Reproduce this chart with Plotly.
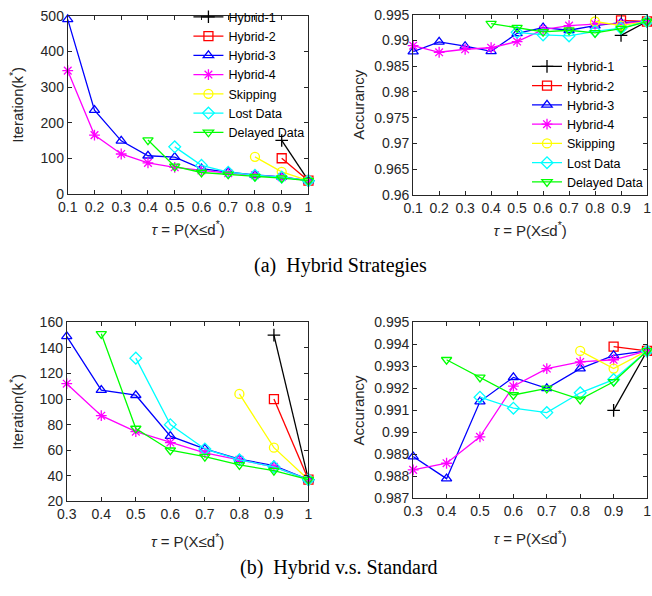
import plotly.graph_objects as go

W, H = 652, 596

tau = [0.1, 0.2, 0.3, 0.4, 0.5, 0.6, 0.7, 0.8, 0.9, 1.0]

names = ["Hybrid-1", "Hybrid-2", "Hybrid-3", "Hybrid-4", "Skipping", "Lost Data", "Delayed Data"]
colors = ["#000000", "#ff0000", "#0000ff", "#ff00ff", "#ffff00", "#00ffff", "#00ff00"]
symbols = ["cross-thin-open", "square-open", "triangle-up-open", "asterisk-open",
           "circle-open", "diamond-open", "triangle-down-open"]

# Iteration (k*)
iter_h1 = [None, None, None, None, None, None, None, None, 150, 37]
iter_h2 = [None, None, None, None, None, None, None, None, 100, 37]
iter_h3 = [490, 235, 149, 107, 103, 71, 61, 53, 48, 37]
iter_h4 = [346, 165, 112, 87, 74.5, 66, 58, 52.5, 47, 37]
iter_skip = [None, None, None, None, None, None, None, 104, 62, 37]
iter_lost = [None, None, None, None, 132, 80, 61, 52.5, 47, 37]
iter_delay = [None, None, None, 151, 77, 60, 55, 48.5, 44, 37]

# Accuracy
acc_h1 = [None, None, None, None, None, None, None, None, 0.9910, 0.9937]
acc_h2 = [None, None, None, None, None, None, None, None, 0.9939, 0.9937]
acc_h3 = [0.98785, 0.98975, 0.9889, 0.9879, 0.9914, 0.9925, 0.9920, 0.9929, 0.9935, 0.9937]
acc_h4 = [0.9890, 0.98772, 0.9883, 0.9886, 0.9898, 0.9921, 0.9929, 0.9932, 0.9933, 0.9937]
acc_skip = [None, None, None, None, None, None, None, 0.9937, 0.9929, 0.9937]
acc_lost = [None, None, None, None, 0.9916, 0.9911, 0.9909, 0.9918, 0.9924, 0.9937]
acc_delay = [None, None, None, 0.9933, 0.9925, 0.9917, 0.9920, 0.9915, 0.9923, 0.9937]

iter_series = [iter_h1, iter_h2, iter_h3, iter_h4, iter_skip, iter_lost, iter_delay]
acc_series = [acc_h1, acc_h2, acc_h3, acc_h4, acc_skip, acc_lost, acc_delay]

FONT = "Liberation Sans, Arial, sans-serif"
AX = "#262626"

fig = go.Figure()


def add_panel(series, xa, ya, xmin, legend=None):
    for i, ys in enumerate(series):
        pts = [(x, y) for x, y in zip(tau, ys) if y is not None and x >= xmin - 1e-9]
        fig.add_trace(go.Scatter(
            x=[p[0] for p in pts], y=[p[1] for p in pts],
            mode="lines+markers", name=names[i],
            line=dict(color=colors[i], width=1.3),
            marker=dict(symbol=symbols[i], size=9, color=colors[i],
                        line=dict(color=colors[i], width=1.3)),
            xaxis=xa, yaxis=ya,
            showlegend=legend is not None,
            legend=legend if legend else "legend",
            cliponaxis=False,
        ))


add_panel(iter_series, "x", "y", 0.1, legend="legend")
add_panel(acc_series, "x2", "y2", 0.1, legend="legend2")
add_panel(iter_series, "x3", "y3", 0.3)
add_panel(acc_series, "x4", "y4", 0.3)


def px_x(a, b):
    return [a / W, b / W]


def px_y(top, bot):
    return [1 - bot / H, 1 - top / H]


axis_common = dict(
    showline=True, linecolor=AX, linewidth=1, mirror="ticks",
    ticks="inside", ticklen=4, tickcolor=AX, showgrid=False, zeroline=False,
    tickfont=dict(family=FONT, size=14, color=AX),
)
title_font = dict(family=FONT, size=15, color=AX)
xtitle = "<i>τ</i> = P(X≤d<sup>*</sup>)"

leg_font = dict(family=FONT, size=12.5, color="#000")

fig.update_layout(
    width=W, height=H, margin=dict(l=0, r=0, t=0, b=0),
    paper_bgcolor="white", plot_bgcolor="white",
    font=dict(family=FONT, color=AX),
    xaxis=dict(domain=px_x(59, 305), range=[0.1, 1], dtick=0.1, tick0=0.1, anchor="y",
               title=dict(text=xtitle, font=title_font, standoff=10), **axis_common),
    yaxis=dict(domain=px_y(8, 191), range=[0, 500], dtick=100, anchor="x",
               title=dict(text="Iteration(k<sup>*</sup>)", font=title_font, standoff=13), **axis_common),
    xaxis2=dict(domain=px_x(412, 651), range=[0.1, 1], dtick=0.1, tick0=0.1, anchor="y2",
                title=dict(text=xtitle, font=title_font, standoff=10), **axis_common),
    yaxis2=dict(domain=px_y(7, 192), range=[0.96, 0.995], dtick=0.005, tick0=0.96, anchor="x2",
                title=dict(text="Accurancy", font=title_font, standoff=6), **axis_common),
    xaxis3=dict(domain=px_x(58, 305), range=[0.3, 1], dtick=0.1, tick0=0.3, anchor="y3",
                title=dict(text=xtitle, font=title_font, standoff=15), **axis_common),
    yaxis3=dict(domain=px_y(323, 507), range=[20, 160], dtick=20, anchor="x3",
                title=dict(text="Iteration(k<sup>*</sup>)", font=title_font, standoff=12), **axis_common),
    xaxis4=dict(domain=px_x(412, 651), range=[0.3, 1], dtick=0.1, tick0=0.3, anchor="y4",
                title=dict(text=xtitle, font=title_font, standoff=15), **axis_common),
    yaxis4=dict(domain=px_y(323, 504), range=[0.987, 0.995], dtick=0.001, tick0=0.987, anchor="x4",
                title=dict(text="Accurancy", font=title_font, standoff=6), **axis_common),
    legend=dict(x=306 / W, y=1 + 6 / H, xanchor="right", yanchor="top",
                bgcolor="rgba(255,255,255,0)", borderwidth=0, font=leg_font,
                tracegroupgap=0, itemwidth=30),
    legend2=dict(x=652 / W, y=1 - 45 / H, xanchor="right", yanchor="top",
                 bgcolor="rgba(255,255,255,0)", borderwidth=0, font=leg_font,
                 tracegroupgap=0, itemwidth=30),
)

cap_font = dict(family="Liberation Serif, Times New Roman, serif", size=20, color="#000")
fig.add_annotation(text="(a)  Hybrid Strategies", x=338 / W, y=1 - 265 / H, xref="paper", yref="paper",
                   showarrow=False, font=cap_font, xanchor="center", yanchor="middle")
fig.add_annotation(text="(b)  Hybrid v.s. Standard", x=336 / W, y=1 - 575 / H, xref="paper", yref="paper",
                   showarrow=False, font=cap_font, xanchor="center", yanchor="middle")

fig.write_html("out.html")
